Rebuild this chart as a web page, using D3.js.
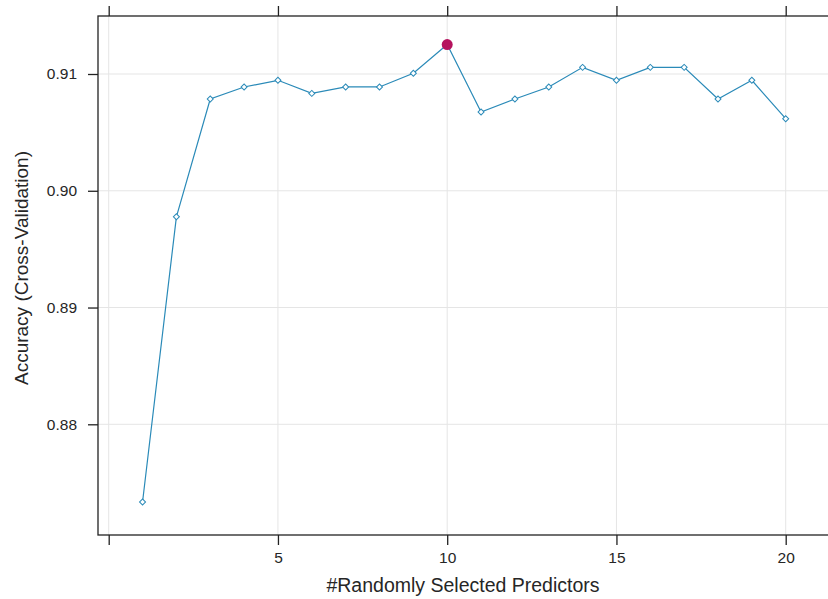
<!DOCTYPE html>
<html><head><meta charset="utf-8">
<script src="https://cdn.jsdelivr.net/npm/d3@7"></script>
<style>body{margin:0;background:#fff}svg{display:block}text{font-family:"Liberation Sans",Arial,sans-serif;fill:#262626}</style>
</head><body><svg id="c" width="828" height="599"></svg>
<script>
const predictors = [1,2,3,4,5,6,7,8,9,10,11,12,13,14,15,16,17,18,19,20];
const accuracy = [0.87335,0.89777,0.90786,0.90889,0.90946,0.90834,0.90889,0.90889,0.91006,0.91252,
                  0.90674,0.90786,0.90889,0.91057,0.90946,0.91057,0.91057,0.90786,0.90946,0.90617];
const bestIndex = 9;
const xTicks = [0,5,10,15,20];
const xTickLabels = ["","5","10","15","20"];
const yTicks = [0.88,0.89,0.90,0.91];
const yTickLabels = ["0.88","0.89","0.90","0.91"];
const xTitle = "#Randomly Selected Predictors";
const yTitle = "Accuracy (Cross-Validation)";

const svg = d3.select("#c");
const L=98, T=16, B=535, R=845;
const x = d3.scaleLinear().domain([0,20]).range([108.7,785.7]);
const y = d3.scaleLinear().domain([0.88,0.91]).range([424.3,74]);

// grid
const g = svg.append("g");
g.selectAll(".vg").data(xTicks).join("line").attr("x1",d=>x(d)).attr("x2",d=>x(d)).attr("y1",T).attr("y2",B)
 .attr("stroke","#e5e5e5").attr("stroke-width",1);
g.selectAll(".hg").data(yTicks).join("line").attr("y1",d=>y(d)).attr("y2",d=>y(d)).attr("x1",L).attr("x2",R)
 .attr("stroke","#e5e5e5").attr("stroke-width",1);

// axes
const axBottom = svg.append("g").attr("transform",`translate(0,${B})`)
 .call(d3.axisBottom(x).tickValues(xTicks).tickFormat((d,i)=>xTickLabels[i]).tickSize(10).tickPadding(7));
const axTop = svg.append("g").attr("transform",`translate(0,${T})`)
 .call(d3.axisTop(x).tickValues(xTicks).tickFormat("").tickSize(10));
const axLeft = svg.append("g").attr("transform",`translate(${L},0)`)
 .call(d3.axisLeft(y).tickValues(yTicks).tickFormat((d,i)=>yTickLabels[i]).tickSize(10).tickPadding(11));
[axBottom,axTop,axLeft].forEach(a=>{
  a.select(".domain").remove();
  a.selectAll(".tick line").attr("stroke","#222").attr("stroke-width",1.3);
  a.selectAll(".tick text").attr("font-size",15.5).attr("fill","#262626").style("font-family","Liberation Sans, Arial, sans-serif");
});
// panel border
svg.append("rect").attr("x",L).attr("y",T).attr("width",R-L).attr("height",B-T)
 .attr("fill","none").attr("stroke","#222").attr("stroke-width",1.3);

// line
const line = d3.line().x((d,i)=>x(predictors[i])).y(d=>y(d));
svg.append("path").datum(accuracy).attr("d",line).attr("fill","none").attr("stroke","#2a8ab8").attr("stroke-width",1.2);
const sym = d3.symbol().type(d3.symbolSquare).size(18);
svg.selectAll(".pt").data(accuracy).join("path")
 .attr("transform",(d,i)=>`translate(${x(predictors[i])},${y(d)}) rotate(45)`).attr("d",sym)
 .attr("fill","#ffffff").attr("stroke","#2a8ab8").attr("stroke-width",1);
svg.append("circle").attr("cx",x(predictors[bestIndex])).attr("cy",y(accuracy[bestIndex])).attr("r",5.5)
 .attr("fill","#b5135e");

// titles
svg.append("text").attr("x",463).attr("y",592).attr("text-anchor","middle").attr("font-size",19.5).text(xTitle);
svg.append("text").attr("transform","translate(28,268) rotate(-90)").attr("text-anchor","middle").attr("font-size",19).text(yTitle);
</script></body></html>
